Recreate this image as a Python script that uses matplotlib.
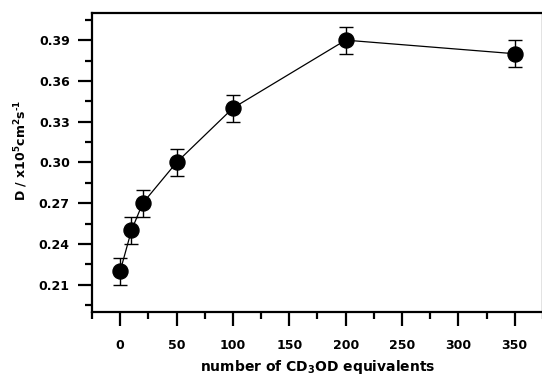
import matplotlib
matplotlib.use("Agg")
import matplotlib.pyplot as plt
from matplotlib.ticker import MultipleLocator

plt.rcParams['font.family'] = ['DejaVu Sans']
plt.rcParams['font.weight'] = 'bold'
plt.rcParams['mathtext.fontset'] = 'custom'
plt.rcParams['mathtext.rm'] = 'DejaVu Sans:bold'
plt.rcParams['mathtext.it'] = 'DejaVu Sans:bold'
plt.rcParams['mathtext.default'] = 'rm'

equivalents = [0, 10, 20, 50, 100, 200, 350]
D_values = [0.22, 0.25, 0.27, 0.30, 0.34, 0.39, 0.38]
D_errors = [0.01, 0.01, 0.01, 0.01, 0.01, 0.01, 0.01]

fig = plt.figure(figsize=(5.42, 3.79), dpi=100)
ax = fig.add_axes([0.1697, 0.1768, 0.832, 0.789])

ax.plot(equivalents, D_values, color='black', lw=0.9, zorder=1)
ax.errorbar(equivalents, D_values, yerr=D_errors, fmt='o', color='black',
            markersize=10.8, elinewidth=1.0, capsize=5.3, capthick=1.0, zorder=2)

ax.set_xlim(-25, 375)
ax.set_ylim(0.19, 0.41)
ax.xaxis.set_major_locator(MultipleLocator(50))
ax.xaxis.set_minor_locator(MultipleLocator(25))
ax.set_yticks([0.21, 0.24, 0.27, 0.30, 0.33, 0.36, 0.39])
ax.set_yticklabels(['0.21', '0.24', '0.27', '0.30', '0.33', '0.36', '0.39'])
ax.yaxis.set_minor_locator(MultipleLocator(0.015))

for s in ax.spines.values():
    s.set_linewidth(1.6)
ax.tick_params(which='major', direction='out', length=10, width=1.6, labelsize=9, pad=6)
ax.tick_params(which='minor', direction='out', length=5, width=1.6)
ax.tick_params(axis='x', which='major', pad=9.5)

ax.set_xlabel('number of CD$_3$OD equivalents', fontsize=10, fontweight='bold', labelpad=4)
ax.set_ylabel('D / x10$^5$cm$^2$s$^{\u20101}$', fontsize=9, fontweight='bold')
ax.yaxis.set_label_coords(-0.137, 0.54)

fig.savefig('out.png', dpi=100)
